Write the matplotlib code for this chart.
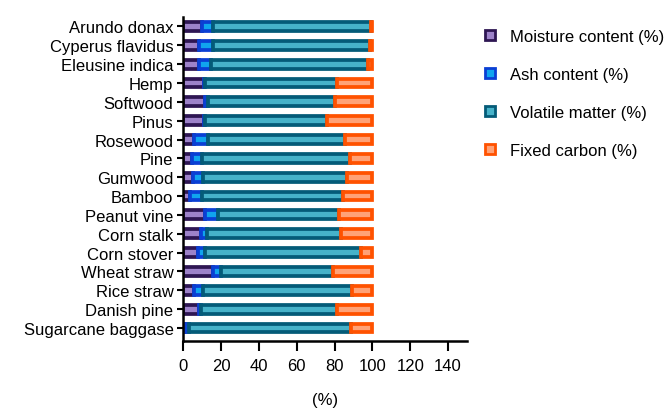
import matplotlib
matplotlib.use('Agg')
import matplotlib.pyplot as plt
from matplotlib.patches import Patch
import numpy as np

plt.rcParams['font.family'] = ['Liberation Sans', 'DejaVu Sans']

# biomass samples, top to bottom
amostras = ['Arundo donax', 'Cyperus flavidus', 'Eleusine indica', 'Hemp', 'Softwood',
            'Pinus', 'Rosewood', 'Pine', 'Gumwood', 'Bamboo', 'Peanut vine', 'Corn stalk',
            'Corn stover', 'Wheat straw', 'Rice straw', 'Danish pine', 'Sugarcane baggase']

humidade = [9.9, 8.6, 8.6, 11.0, 11.6, 11.0, 5.8, 4.9, 5.1, 3.7, 11.6, 9.5, 7.6, 16.0, 5.8, 8.3, 0.8]
cinzas = [6.1, 7.4, 6.2, 0.6, 1.4, 0.6, 7.1, 5.1, 5.3, 6.3, 6.7, 3.0, 4.0, 3.9, 4.6, 1.0, 2.5]
volateis = [83.0, 82.8, 82.8, 69.6, 67.3, 64.6, 72.7, 78.2, 76.4, 74.4, 64.3, 70.8, 82.4, 59.2, 79.0, 71.9, 85.4]
carbono = [1.0, 1.2, 2.4, 18.8, 19.7, 23.8, 14.4, 11.8, 13.2, 15.6, 17.4, 16.7, 6.0, 20.9, 10.6, 18.8, 11.3]

series = ['Moisture content (%)', 'Ash content (%)', 'Volatile matter (%)', 'Fixed carbon (%)']
faces = ['#9d82c9', '#10a4ee', '#46b2c9', '#ffa277']
bordas = ['#2e1653', '#0a3fd4', '#045b78', '#ff5200']

fig = plt.figure(figsize=(6.71, 4.10), dpi=100)
ax = fig.add_axes([0.273, 0.166, 0.423, 0.79])

pos = np.arange(len(amostras))[::-1]
esquerda = np.zeros(len(amostras))
for valores, nome, fc, ec in zip([humidade, cinzas, volateis, carbono], series, faces, bordas):
    ax.barh(pos, valores, left=esquerda, height=0.47, color=fc, edgecolor=ec,
            linewidth=2.7, label=nome)
    esquerda = esquerda + np.array(valores)

ax.set_xlim(0, 150)
ax.set_ylim(-0.69, 16.5)
ax.set_xticks(np.arange(0, 141, 20))
ax.set_yticks(pos)
ax.set_yticklabels(amostras, fontsize=12)
ax.tick_params(axis='x', labelsize=12, width=1.5, length=7, pad=5)
ax.tick_params(axis='y', width=1.5, length=4, pad=3)
ax.spines['top'].set_visible(False)
ax.spines['right'].set_visible(False)
ax.spines['left'].set_linewidth(1.8)
ax.spines['bottom'].set_linewidth(1.8)
ax.set_xlabel('(%)', fontsize=12, labelpad=14)

# legend with small square markers
handles = [Patch(facecolor=fc, edgecolor=ec, linewidth=2) for fc, ec in zip(faces, bordas)]
ax.legend(handles, series, loc='upper left', bbox_to_anchor=(1.01, 1.01), frameon=False,
          fontsize=12, handlelength=0.6, handleheight=0.6, handletextpad=0.9,
          labelspacing=1.38)

fig.savefig('out.png', dpi=100)
